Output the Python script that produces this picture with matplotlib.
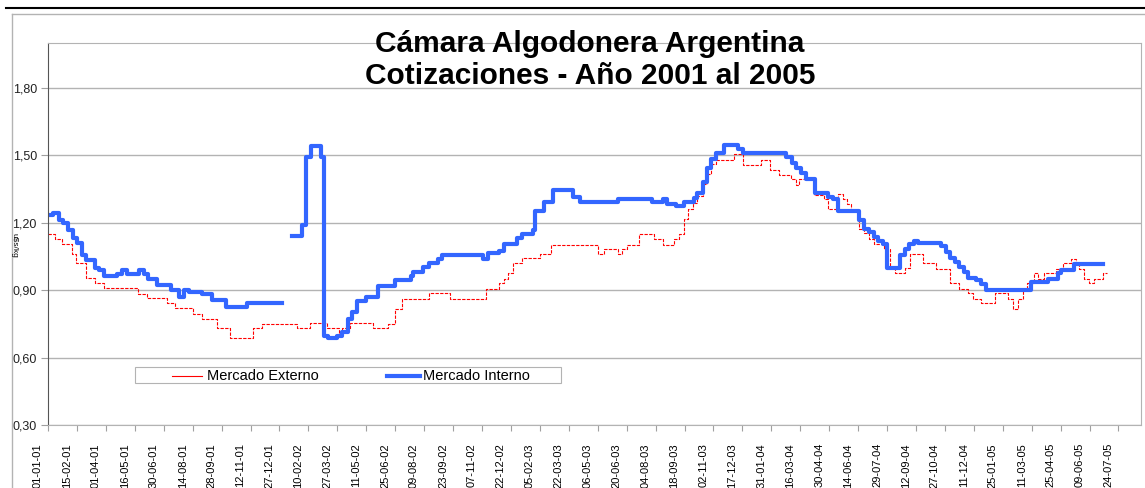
import numpy as np
import pandas as pd
import matplotlib
matplotlib.use('Agg')
import matplotlib.pyplot as plt
import matplotlib.dates as mdates
from matplotlib.lines import Line2D
from matplotlib.patches import Rectangle
from matplotlib.ticker import FuncFormatter
from matplotlib.transforms import ScaledTranslation

plt.rcParams['font.family'] = ['Liberation Sans', 'DejaVu Sans']

# Mercado Externo (u$s/kg), cambios de precio
fechas_ext = ['2001-01-01', '2001-01-12', '2001-01-23', '2001-02-07', '2001-02-14', '2001-03-01',
              '2001-03-15', '2001-03-29', '2001-05-21', '2001-06-04', '2001-07-05', '2001-07-18',
              '2001-08-15', '2001-08-29', '2001-09-21', '2001-10-11', '2001-11-16', '2001-11-30',
              '2002-01-24', '2002-02-13', '2002-03-11', '2002-03-29', '2002-04-04', '2002-04-16',
              '2002-05-22', '2002-06-14', '2002-06-25', '2002-07-05', '2002-08-16', '2002-09-19',
              '2002-11-14', '2002-12-03', '2002-12-12', '2002-12-18', '2002-12-26', '2003-01-09',
              '2003-02-06', '2003-02-22', '2003-05-07', '2003-05-15', '2003-06-06', '2003-06-12',
              '2003-06-20', '2003-07-09', '2003-08-01', '2003-08-15', '2003-09-01', '2003-09-09',
              '2003-09-17', '2003-09-23', '2003-10-01', '2003-10-08', '2003-10-16', '2003-10-23',
              '2003-10-29', '2003-11-06', '2003-12-04', '2003-12-18', '2004-01-15', '2004-01-29',
              '2004-02-12', '2004-03-01', '2004-03-09', '2004-03-14', '2004-04-06', '2004-04-22',
              '2004-04-28', '2004-05-13', '2004-05-21', '2004-05-27', '2004-06-03', '2004-06-15',
              '2004-06-23', '2004-07-01', '2004-07-09', '2004-07-24', '2004-08-02', '2004-08-10',
              '2004-08-26', '2004-09-03', '2004-09-23', '2004-10-13', '2004-11-04', '2004-11-18',
              '2004-12-02', '2004-12-10', '2004-12-22', '2005-01-13', '2005-02-02', '2005-02-10',
              '2005-02-18', '2005-02-26', '2005-03-04', '2005-03-15', '2005-03-21', '2005-03-30',
              '2005-04-18', '2005-04-29', '2005-05-11', '2005-05-19', '2005-05-24', '2005-06-01',
              '2005-06-08', '2005-06-16', '2005-06-30', '2005-07-06']
mercado_externo = [1.148, 1.126, 1.104, 1.059, 1.019, 0.952,
                   0.930, 0.908, 0.885, 0.865, 0.841, 0.819,
                   0.796, 0.773, 0.733, 0.688, 0.733, 0.750,
                   0.733, 0.752, 0.733, 0.709, 0.733, 0.752,
                   0.733, 0.751, 0.817, 0.862, 0.886, 0.862,
                   0.906, 0.930, 0.951, 0.975, 1.019, 1.041,
                   1.062, 1.102, 1.059, 1.082, 1.059, 1.082,
                   1.102, 1.150, 1.126, 1.102, 1.126, 1.148,
                   1.215, 1.260, 1.289, 1.319, 1.371, 1.415,
                   1.460, 1.479, 1.504, 1.455, 1.479, 1.435,
                   1.411, 1.393, 1.366, 1.393, 1.322, 1.304,
                   1.260, 1.326, 1.307, 1.282, 1.252, 1.174,
                   1.156, 1.126, 1.104, 1.082, 1.000, 0.975,
                   1.000, 1.059, 1.019, 0.995, 0.933, 0.906,
                   0.886, 0.862, 0.841, 0.886, 0.862, 0.817,
                   0.862, 0.903, 0.930, 0.975, 0.951, 0.975,
                   0.995, 1.019, 1.040, 1.019, 0.995, 0.951,
                   0.930, 0.951, 0.975, 0.975]

# Mercado Interno (u$s/kg), cambios de precio (nan = sin datos)
fechas_int = ['2001-01-01', '2001-01-09', '2001-01-18', '2001-01-24', '2001-02-01', '2001-02-09',
              '2001-02-15', '2001-02-23', '2001-03-01', '2001-03-15', '2001-03-21', '2001-03-29',
              '2001-04-18', '2001-04-26', '2001-05-04', '2001-05-23', '2001-05-30', '2001-06-06',
              '2001-06-20', '2001-07-11', '2001-07-24', '2001-08-01', '2001-08-09', '2001-08-29',
              '2001-09-13', '2001-10-05', '2001-11-07', '2001-12-31', '2002-01-16', '2002-01-31',
              '2002-02-07', '2002-02-14', '2002-03-01', '2002-03-07', '2002-03-13', '2002-03-27',
              '2002-04-04', '2002-04-12', '2002-04-19', '2002-04-26', '2002-05-11', '2002-05-30',
              '2002-06-25', '2002-07-19', '2002-07-23', '2002-08-08', '2002-08-16', '2002-08-30',
              '2002-09-06', '2002-11-08', '2002-11-16', '2002-12-03', '2002-12-12', '2003-01-01',
              '2003-01-09', '2003-01-25', '2003-01-29', '2003-02-12', '2003-02-26', '2003-03-28',
              '2003-04-09', '2003-06-06', '2003-07-30', '2003-08-15', '2003-08-21', '2003-09-04',
              '2003-09-17', '2003-10-02', '2003-10-08', '2003-10-16', '2003-10-23', '2003-10-29',
              '2003-11-06', '2003-11-18', '2003-12-10', '2003-12-18', '2004-02-23', '2004-03-03',
              '2004-03-09', '2004-03-17', '2004-03-25', '2004-04-08', '2004-04-28', '2004-05-06',
              '2004-05-13', '2004-06-15', '2004-06-23', '2004-07-01', '2004-07-09', '2004-07-15',
              '2004-07-23', '2004-07-29', '2004-08-18', '2004-08-26', '2004-09-01', '2004-09-09',
              '2004-09-15', '2004-10-21', '2004-10-29', '2004-11-04', '2004-11-12', '2004-11-18',
              '2004-11-26', '2004-12-02', '2004-12-14', '2004-12-22', '2004-12-30', '2005-03-10',
              '2005-04-05', '2005-04-21', '2005-04-26', '2005-05-16', '2005-06-30']
mercado_interno = [1.233, 1.245, 1.212, 1.197, 1.170, 1.133,
                   1.111, 1.055, 1.034, 1.000, 0.989, 0.963,
                   0.970, 0.992, 0.974, 0.992, 0.974, 0.950,
                   0.924, 0.903, 0.870, 0.900, 0.891, 0.881,
                   0.856, 0.823, 0.844, np.nan, 1.142, 1.191,
                   1.491, 1.543, 1.491, 0.694, 0.687, 0.697,
                   0.716, 0.771, 0.805, 0.853, 0.870, 0.920,
                   0.944, 0.963, 0.982, 1.003, 1.022, 1.040,
                   1.055, 1.040, 1.064, 1.074, 1.104, 1.133,
                   1.151, 1.168, 1.251, 1.292, 1.344, 1.314,
                   1.292, 1.307, 1.292, 1.307, 1.282, 1.274,
                   1.292, 1.311, 1.331, 1.381, 1.445, 1.485,
                   1.512, 1.545, 1.527, 1.512, 1.494, 1.464,
                   1.445, 1.423, 1.396, 1.334, 1.316, 1.304,
                   1.252, 1.212, 1.174, 1.159, 1.138, 1.119,
                   1.104, 1.000, 1.055, 1.082, 1.104, 1.119,
                   1.111, 1.096, 1.070, 1.044, 1.025, 1.004,
                   0.981, 0.955, 0.945, 0.926, 0.903, 0.936,
                   0.951, 0.978, 0.992, 1.015, 1.015]

W, H = 1145, 488
fig = plt.figure(figsize=(W / 100, H / 100), dpi=100)
ax = fig.add_axes([48 / W, 1 - 425 / H, (1141 - 48) / W, (425 - 43) / H])

ax.plot(pd.to_datetime(fechas_ext), mercado_externo, drawstyle='steps-post',
        color='#ff0000', lw=0.8, dashes=(3, 1.2))
ax.plot(pd.to_datetime(fechas_int), mercado_interno, drawstyle='steps-post',
        color='#3366ff', lw=3)

inicio = pd.Timestamp('2001-01-01')
ax.set_xlim(inicio, inicio + pd.Timedelta(days=1700))
ax.set_xticks([inicio + pd.Timedelta(days=45 * k) for k in range(38)])
ax.xaxis.set_major_formatter(mdates.DateFormatter('%d-%m-%y'))
ax.set_ylim(0.30, 2.00)
ax.set_yticks(np.arange(0.30, 1.81, 0.30))
ax.yaxis.set_major_formatter(FuncFormatter(lambda v, p: f'{v:.2f}'.replace('.', ',')))

ax.tick_params(axis='x', direction='out', length=4, pad=9, colors='#a0a0a0',
               labelcolor='black', labelsize=8, labelrotation=90)
ax.tick_params(axis='y', direction='out', length=5, pad=3, colors='#a0a0a0',
               labelcolor='#222222', labelsize=9)
offset = ScaledTranslation(-0.10, 0, fig.dpi_scale_trans)
for lbl in ax.get_xticklabels():
    lbl.set_transform(lbl.get_transform() + offset)

ax.yaxis.grid(True, color='#b3b3b3', lw=1)
ax.set_axisbelow(True)
for s in ['top', 'right', 'bottom']:
    ax.spines[s].set_color('#b3b3b3')
ax.spines['left'].set_color('#555555')

# marco exterior
fig.add_artist(Line2D([6 / W, 1], [1 - 8 / H] * 2, color='black', lw=1.5))
fig.add_artist(Line2D([12 / W, 1], [1 - 14 / H] * 2, color='#b3b3b3', lw=1))
fig.add_artist(Line2D([12 / W] * 2, [0, 1 - 14 / H], color='#b3b3b3', lw=1))

fig.text(14 / W, 1 - 245 / H, 'u$s/kg', rotation=270, ha='center', va='center', fontsize=6)

fig.text(590 / W, 1 - 52 / H, 'Cámara Algodonera Argentina', ha='center', va='baseline',
         fontsize=21.5, fontweight='bold')
fig.text(590 / W, 1 - 84 / H, 'Cotizaciones - Año 2001 al 2005', ha='center', va='baseline',
         fontsize=21.5, fontweight='bold')

# leyenda
fig.add_artist(Rectangle((135 / W, 1 - 383 / H), 426 / W, 16 / H, transform=fig.transFigure,
                         facecolor='white', edgecolor='#b3b3b3', lw=0.8))
ly = 1 - 376 / H
fig.add_artist(Line2D([172 / W, 202 / W], [ly, ly], color='#ff0000', lw=0.8))
fig.text(207 / W, ly, 'Mercado Externo', va='center', fontsize=10.5)
fig.add_artist(Line2D([387 / W, 420 / W], [ly, ly], color='#3366ff', lw=3))
fig.text(423 / W, ly, 'Mercado Interno', va='center', fontsize=10.5)

fig.savefig('out.png', dpi=100)
